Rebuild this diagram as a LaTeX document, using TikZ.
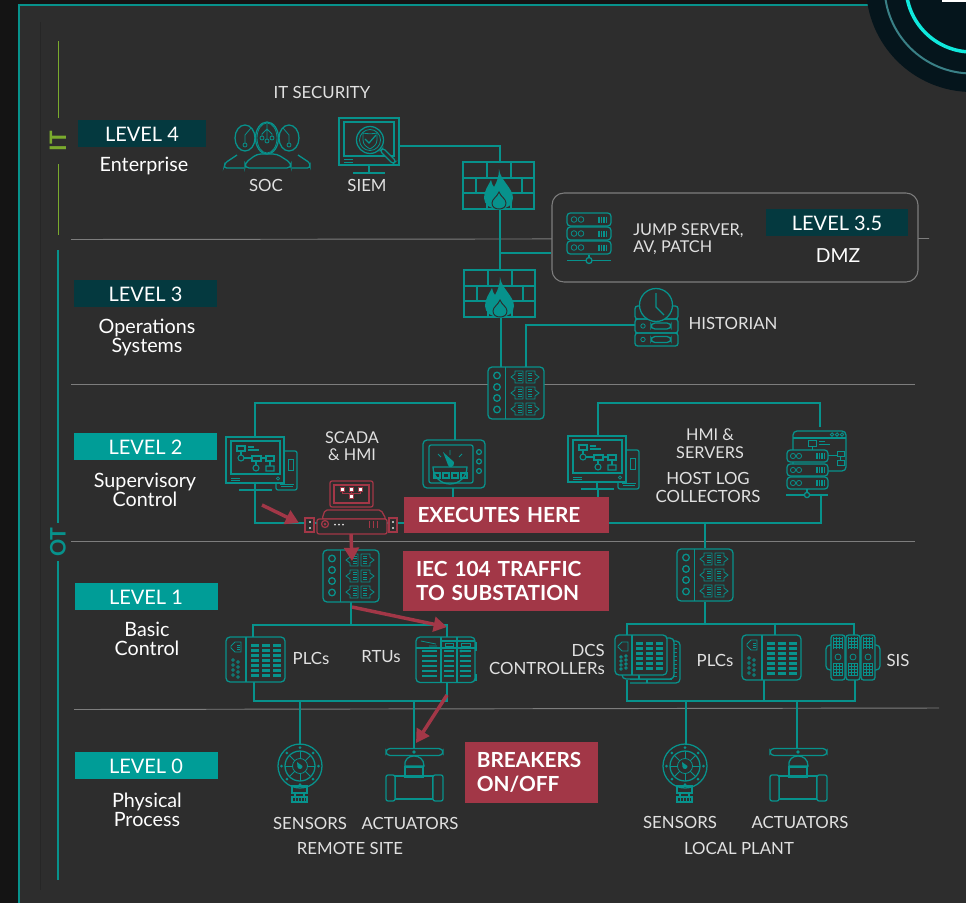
\documentclass[tikz,border=0pt]{standalone}
\usepackage{fontspec}
\setmainfont{Lato}
\usepackage{xcolor}
\usetikzlibrary{arrows.meta}
\definecolor{figbg}{RGB}{45,45,45}
\definecolor{figedge}{RGB}{20,20,20}
\definecolor{figteal}{RGB}{7,146,140}
\definecolor{figdeep}{RGB}{4,57,63}
\definecolor{figlevel}{RGB}{0,157,151}
\definecolor{figred}{RGB}{162,55,71}
\definecolor{figgreen}{RGB}{122,170,45}
\definecolor{figgray}{RGB}{125,125,125}
\definecolor{figtext}{RGB}{225,225,225}
\definecolor{figcore}{RGB}{5,21,28}
\definecolor{figglow}{RGB}{16,232,220}
\definecolor{figring}{RGB}{58,128,134}
\tikzset{
  conn/.style  ={draw=figteal, line width=1.5pt},
  icon/.style  ={draw=figteal, line width=0.95pt},
  thin/.style  ={draw=figteal, line width=0.6pt},
  mid/.style   ={draw=figteal, line width=0.8pt},
  icr/.style   ={draw=figred, line width=0.95pt},
  level/.style ={draw=figgray, line width=0.7pt},
  lab/.style   ={font=\fontsize{12.6}{15}\selectfont, text=figtext, inner sep=0pt, align=center},
  labl/.style  ={lab, align=left},
  sublab/.style={font=\fontsize{14.8}{14.2}\selectfont, text=white, inner sep=0pt, align=center},
  lvlb/.style  ={minimum width=107.25pt, minimum height=20.25pt, inner sep=0pt, text=white,
                 text height=12.6pt, text depth=0pt, font=\fontsize{15}{18}\selectfont},
  lvld/.style  ={lvlb, fill=figdeep},
  lvlt/.style  ={lvlb, fill=figlevel},
  flag/.style  ={fill=figred, text=white, inner sep=0pt, align=left,
                 font=\bfseries\fontsize{15.6}{17.5}\selectfont},
  ptr/.style   ={draw=figred, line width=2.6pt, -{Triangle[length=10pt,width=11pt]}},
  pics/firewall/.style={code={
    \draw[icon] (0,0) rectangle (71,47);
    \draw[icon] (0,16) -- (71,16) (0,31) -- (71,31);
    \draw[icon] (24,0) -- (24,16) (48,0) -- (48,16) (13,16) -- (13,31) (59,16) -- (59,31);
    \draw[icon] (24,31) -- (24,47) (48,31) -- (48,47);
    \fill[figteal] (36,7) .. controls (37,18) and (50,26) .. (50,36) .. controls (50,43) and (44,47) .. (36,47)
      .. controls (28,47) and (21,43) .. (21,36) .. controls (21,29) and (25,24) .. (28,18)
      .. controls (29,22) and (30,24) .. (31,25) .. controls (34,20) and (36,14) .. (36,7) -- cycle;
    \draw[draw=figbg,line width=0.7pt] (36,30) .. controls (38,35) and (43,37) .. (43,41)
      .. controls (43,45) and (40,47) .. (36,47) .. controls (32,47) and (29,45) .. (29,41)
      .. controls (29,37) and (34,35) .. (36,30) -- cycle;
  }},
  pics/switchbox/.style={code={
    \draw[icon,rounded corners=3pt,fill=figbg] (0,0) rectangle (56,52);
    \draw[icon] (17.5,0) -- (17.5,52);
    \foreach \cy in {8.5,20,31,42.5} \draw[icon] (9,\cy) circle (3.3);
    \foreach \py in {10,26,42} {
      \draw[thin] (35,\py-6) -- (27,\py-6) -- (27,\py-3) -- (23,\py) -- (27,\py+3) -- (27,\py+6) -- (35,\py+6) -- cycle;
      \draw[thin] (38,\py-6) -- (47,\py-6) -- (47,\py-3) -- (51,\py) -- (47,\py+3) -- (47,\py+6) -- (38,\py+6) -- cycle;
      \foreach \dy in {-3.5,-1.2,1.2,3.5} {
        \draw[thin] (30,\py+\dy) -- (34,\py+\dy);
        \draw[thin] (40,\py+\dy) -- (44,\py+\dy);
      }
    }
  }},
  pics/flowchart/.style={code={
    \draw[mid] (0,0) rectangle (8,5) (11,1) -- (17,1) (11,4) -- (22,4);
    \draw[mid] (4,5) -- (4,9) (7,12) -- (15,12) (24,12) -- (29,12);
    \draw[mid] (4,12) circle (3);
    \draw[mid] (15,10) rectangle (24,15) (29,10) rectangle (37,15);
    \draw[mid] (19,15) -- (19,19) (33,15) -- (33,20);
    \draw[mid] (19,22) circle (3) (29,20) rectangle (37,25);
  }},
  pics/hmidesk/.style={code={
    \draw[icon,rounded corners=1.5pt] (50,14) rectangle (71,53);
    \draw[thin] (62,22) rectangle (67,33) (54,47) -- (68,47);
    \draw[thin] (55,49) -- (67,49);
    \draw[icon,fill=figbg] (0,0) rectangle (58,46);
    \draw[icon] (5,4) rectangle (54,37);
    \draw[thin] (5,41) -- (14,41) (5,43) -- (14,43);
    \draw[thin] (52,41.5) circle (1.6);
    \draw[icon] (29,46) -- (29,53);
    \draw[icon] (13,53) -- (46,53);
    \pic at (11,9) {flowchart};
  }},
  pics/gauge/.style={code={
    \draw[icon,rounded corners=3pt] (0,0) rectangle (62,48);
    \draw[icon,rounded corners=1.5pt] (6,5) rectangle (50,43);
    \draw[icon] (10,27) arc[start angle=180,end angle=0,radius=17] -- cycle;
    \fill[figteal] (20,12) -- (31,22) .. controls (32,27) and (26,29) .. (25,25) -- cycle;
    \draw[thin] (27,10) -- (27,15) (39,14) -- (36,17) (15,14) -- (18,17);
    \foreach \bx in {11,20,29,38} \draw[mid] (\bx,33) rectangle (\bx+6,38);
    \foreach \cy in {12,21.5,31} \draw[icon] (56,\cy) circle (2.4);
  }},
  pics/plcbox/.style={code={
    \draw[icon,rounded corners=3pt,fill=figbg] (0,0) rectangle (59,45);
    \draw[icon] (20,0) -- (20,45);
    \draw[thin] (5,9) -- (9,5) -- (15,5) -- (15,15) -- (9,15) -- (5,11) -- cycle;
    \draw[thin] (11,8) -- (14,8) (11,10) -- (14,10) (11,12) -- (14,12);
    \foreach \dx/\dy in {7/23,7/28,7/33,7/38,12/25,12/30,12/35,12/40}
      \draw[thin] (\dx,\dy) circle (1.4);
    \foreach \bx in {25,36,47} \foreach \by in {7,12,17,22,27,32,37}
      \fill[figteal] (\bx,\by) rectangle (\bx+8,\by+3);
  }},
  pics/rtubox/.style={code={
    \draw[icon,rounded corners=3pt,fill=figbg] (0,0) rectangle (59,45.5);
    \draw[icon] (25,0) -- (25,45.5) (41,0) -- (41,45.5);
    \draw[icon] (25,4) -- (59,4) (0,11) -- (59,11);
    \draw[thin] (29,6) rectangle (37,9.5) (45,6) rectangle (54,9.5);
    \draw[thin] (5,4) -- (20,7) (13,9) -- (21,9);
    \foreach \by in {14,19,24,29,34,39} {
      \draw[icon] (6,\by) -- (21,\by);
      \draw[icon] (28,\by) -- (38,\by);
      \draw[icon] (44,\by) -- (55,\by);
    }
    \fill[figteal] (45,14) circle (1.7);
    \draw[icon] (59,6) -- (60,6) -- (60,13) -- (59,13) (59,38) -- (60,38) -- (60,44);
  }},
  pics/sisbox/.style={code={
    \draw[icon,rounded corners=3pt] (5,10) -- (0,10) -- (0,35) -- (5,35);
    \draw[icon,rounded corners=3pt] (49,10) -- (54,10) -- (54,35) -- (49,35);
    \foreach \mx in {5,20,35} {
      \draw[icon,rounded corners=2pt,fill=figbg] (\mx,0) rectangle (\mx+14,45);
      \foreach \gy in {3,6,9,12,28,31,34,37,40} \draw[thin] (\mx+2,\gy) -- (\mx+12,\gy);
      \foreach \gx in {3,6,9,12} {
        \draw[thin] (\mx+\gx-.5,2) -- (\mx+\gx-.5,14);
        \draw[thin] (\mx+\gx-.5,28) -- (\mx+\gx-.5,41);
      }
      \draw[thin] (\mx+7,22) circle (3);
    }
  }},
  pics/sensor/.style={code={
    \draw[icon] (0,0) circle (22);
    \draw[icon] (0,0) circle (15);
    \draw[thin] (0,0) circle (7.5);
    \foreach \ang in {0,45,...,315} {
      \draw[thin] (\ang:7.5) -- (\ang:15);
      \fill[figteal] (\ang:18.5) circle (1.5);
    }
    \fill[figteal] (-3,-4) -- (2.5,0) .. controls (3,3.5) and (-2,4) .. (-2.5,1) -- cycle;
    \draw[icon] (-8,20) rectangle (7,27);
    \draw[icon] (-5,27) rectangle (4,31);
    \draw[icon] (-8,31) rectangle (7,36);
    \foreach \hx in {-5,-2,1,4} \draw[thin] (\hx,31) -- (\hx,36);
  }},
  pics/valve/.style={code={
    \draw[icon,rounded corners=3pt] (-28,-3.5) rectangle (29,3.5);
    \fill[figteal] (0,0) circle (1.8);
    \draw[icon] (-9,14) .. controls (-10,7) and (-5,4) .. (0,4) .. controls (5,4) and (10,7) .. (10,14) -- cycle;
    \draw[icon] (-9,15) rectangle (9,25);
    \draw[icon] (-19,24) rectangle (19,47);
    \draw[icon,rounded corners=1.5pt,fill=figbg] (-28,23) rectangle (-19,49);
    \draw[icon,rounded corners=1.5pt,fill=figbg] (19,23) rectangle (29,49);
  }},
  pics/rackrow/.style={code={
    \draw[icon,rounded corners=2.5pt,fill=figbg] (0,0) rectangle (44,13);
    \draw[thin] (7,6.5) circle (2.8) (14,6.5) circle (2.8);
    \foreach \bx in {32,34.5,37,39.5} \draw[icon] (\bx,3.5) -- (\bx,9.5);
  }},
  pics/rack/.style={code={
    \pic at (0,0) {rackrow};
    \pic at (0,14) {rackrow};
    \pic at (0,28) {rackrow};
    \draw[icon] (0,47.5) -- (44,47.5);
    \draw[icon,fill=figbg] (22,47.5) circle (3);
    \draw[icon] (22,42) -- (22,44.5);
  }},
  pics/logserver/.style={code={
    \draw[icon,rounded corners=3pt] (6,0) rectangle (59,40);
    \draw[icon] (6,7) -- (59,7);
    \foreach \cx in {45,50,55} \draw[thin] (\cx,3.5) circle (1.7);
    \draw[thin] (21,9) rectangle (29,15) (25,15) -- (25,19);
    \draw[thin] (32,10) -- (38,10) (32,13) -- (43,13);
    \draw[thin] (41,24) -- (50,24) (50,20) rectangle (57,25);
    \draw[thin] (53,25) -- (53,29) (50,29) rectangle (57,34);
    \draw[icon,rounded corners=2.5pt,fill=figbg] (0,19) rectangle (41,31);
    \draw[icon,rounded corners=2.5pt,fill=figbg] (0,33) rectangle (41,45);
    \draw[icon,rounded corners=2.5pt,fill=figbg] (0,46) rectangle (41,58);
    \foreach \ry in {25,39,52} {
      \draw[thin] (6,\ry) circle (2.6) (12,\ry) circle (2.6);
      \foreach \bx in {30,32.5,35,37.5} \draw[icon] (\bx,\ry-3) -- (\bx,\ry+3);
    }
    \draw[icon] (-1,64) -- (41,64);
    \draw[icon,fill=figbg] (20,64) circle (2.6);
    \draw[icon] (20,58) -- (20,61.4);
  }},
  pics/historian/.style={code={
    \draw[icon,rounded corners=2pt] (0,9) rectangle (43,22);
    \draw[icon,rounded corners=2pt] (0,22) rectangle (43,36);
    \draw[icon,rounded corners=2pt] (0,36) rectangle (43,49);
    \draw[thin] (8,29) circle (2.2) (8,42.5) circle (2.2);
    \draw[icon,rounded corners=3pt] (16,26) rectangle (36,32);
    \draw[icon,rounded corners=3pt] (16,39.5) rectangle (36,45.5);
    \draw[icon,fill=figbg] (21,8) circle (16.5);
    \draw[icon] (21,-4) -- (21,10) -- (29,18);
  }},
  pics/socteam/.style={code={
    \draw[icon,rounded corners=2pt] (17,40) -- (5,48) -- (4,53) -- (24,53);
    \draw[icon,rounded corners=2pt] (78,40) -- (90,48) -- (90,53) -- (72,53);
    \draw[icon,fill=figbg] (25,23) ellipse (10 and 13);
    \draw[icon,fill=figbg] (69,23) ellipse (10 and 13);
    \draw[icon,rounded corners=3pt,fill=figbg] (25,53) -- (71,53) -- (71,48) -- (57,39) -- (37,39) -- (25,48) -- cycle;
    \draw[icon,fill=figbg] (47,23) ellipse (11.5 and 16);
    \draw[thin] (47,23) ellipse (10 and 15);
    \draw[thin] (47,9) -- (47,24) (47,14) -- (42,19) -- (42,21) (47,14) -- (52,19) -- (52,21);
    \draw[thin] (47,26) circle (2) (42,23) circle (2) (52,23) circle (2);
    \draw[thin] (31,13) -- (25,20) -- (25,28) (63,13) -- (69,20) -- (69,28);
    \draw[thin] (25,30) circle (2) (69,30) circle (2);
  }},
  pics/siemscreen/.style={code={
    \draw[icon] (0,0) rectangle (60,47);
    \draw[icon] (5,4) rectangle (55,38);
    \draw[thin] (5,41) -- (14,41) (5,44) -- (14,44);
    \draw[icon] (30,47) -- (30,55);
    \draw[icon] (14,55) -- (46,55);
    \draw[icon,fill=figbg] (31,22) circle (13.5);
    \draw[thin] (31,22) circle (10.5);
    \draw[thin] (24,15) .. controls (28,16) and (34,16) .. (38,15) -- (38,22) .. controls (38,27) and (34,29) .. (31,31) .. controls (28,29) and (24,27) .. (24,22) -- cycle;
    \draw[icon] (26,21) -- (30,25) -- (37,17);
    \draw[icon,rounded corners=2pt,fill=figbg] (41,33) -- (44,30) -- (57,43) -- (54,46) -- cycle;
  }},
  pics/plcdcs/.style={code={
    \draw[icon,rounded corners=3pt,fill=figbg] (0,0) rectangle (52,40);
    \draw[icon] (17,0) -- (17,40);
    \draw[thin] (3,11) -- (7,7) -- (13,7) -- (13,16) -- (7,16) -- (3,12) -- cycle;
    \foreach \dy in {22,26,30,34} { \draw[thin] (6,\dy) circle (1.3); \draw[thin] (11,\dy-1) circle (1.3); }
    \foreach \bx in {21,31,41} \foreach \by in {7,12,17,22,27,32}
      \fill[figteal] (\bx,\by) rectangle (\bx+7,\by+3);
  }},
  pics/dcsstack/.style={code={
    \draw[icon,rounded corners=3pt] (15,6) -- (65,6) -- (65,48) -- (15,48);
    \draw[icon] (15,44) -- (57,44) (32,44) -- (32,48);
    \foreach \by in {9,13,17,21,25,29,33,37,41} \draw[thin] (58,\by) -- (62,\by);
    \draw[icon,rounded corners=3pt,fill=figbg] (7,3) rectangle (59,44);
    \draw[icon] (24,40) -- (24,44);
    \pic at (0,0) {plcdcs};
  }},
}
\begin{document}
\begin{tikzpicture}[x=0.75pt,y=-0.75pt]
  \useasboundingbox (0,0) rectangle (966,903);
  \clip (0,0) rectangle (966,903);
  \fill[figedge] (0,0) rectangle (966,903);
  \fill[figbg] (19,5) rectangle (966,903);
  \draw[draw=figteal,line width=1.5pt] (19,903) -- (19,5) -- (900,5);
  \draw[draw=black!85,line width=0.5pt] (40,22) -- (40,890);
  % corner badge
  \fill[figcore] (972,-14) circle (106);
  \draw[draw=figring,line width=1.5pt] (972,-14) circle (87.5);
  \draw[draw=figglow,line width=2.6pt] (972,-14) circle (66);
  \fill[white] (942,0) rectangle (966,2);
  % side bars
  \coordinate (itA) at (58.5,41);
  \coordinate (itB) at (58.5,118);
  \coordinate (itC) at (58.5,164);
  \coordinate (itD) at (58.5,235);
  \coordinate (otA) at (58,250);
  \coordinate (otB) at (58,523);
  \coordinate (otC) at (58,561);
  \coordinate (otD) at (58,880);
  \draw[draw=figgreen,line width=1.2pt] (itA) -- (itB) (itC) -- (itD);
  \draw[draw=figteal,line width=1.5pt] (otA) -- (otB) (otC) -- (otD);
  \node[text=figgreen,rotate=90,font=\bfseries\fontsize{17}{17}\selectfont,inner sep=0pt] (tagit) at (58,141) {IT};
  \node[text=figteal,rotate=90,font=\bfseries\fontsize{16}{16}\selectfont,inner sep=0pt] (tagot) at (58,542) {OT};
  % level lines
  \draw[level] (71,239.5) -- (929,238.5);
  \draw[level] (71,384) -- (915,384);
  \draw[level] (71,541.5) -- (915,541.5);
  \draw[level] (74,709.5) -- (939,708);
  % level tags
  \node[lvld,minimum width=96pt] (lvl4) at (142,133.5) {LEVEL 4};
  \node[sublab] (sub4) at (144,166) {Enterprise};
  \node[lvld] (lvl3) at (145.5,293) {LEVEL 3};
  \node[sublab] (sub3) at (147,337) {Operations\\Systems};
  \node[lvlt] (lvl2) at (145.5,446.5) {LEVEL 2};
  \node[sublab] (sub2) at (145,489.5) {Supervisory\\Control};
  \node[lvlt] (lvl1) at (146,596.5) {LEVEL 1};
  \node[sublab] (sub1) at (147,639) {Basic\\Control};
  \node[lvlt] (lvl0) at (146,765.5) {LEVEL 0};
  \node[sublab] (sub0) at (147,810) {Physical\\Process};
  % dmz box
  \node[draw=figgray,line width=0.8pt,fill=figbg,rounded corners=9pt,inner sep=0pt,
        minimum width=274.5pt,minimum height=66.75pt] (dmz) at (735,237.5) {};
  \node[lvld,minimum width=107pt] (lvl35) at (837,222.5) {LEVEL 3.5};
  \node[sublab,font=\fontsize{14.5}{16}\selectfont] (dmzlab) at (838,256) {DMZ};
  \pic at (567,213) {rack};
  % anchor points of the links
  \coordinate (siemR) at (399,146);
  \coordinate (wallAt) at (499.5,162);
  \coordinate (wallAb) at (499.5,209);
  \coordinate (wallBt) at (499.5,270);
  \coordinate (wallBb) at (500.5,317);
  \coordinate (dmzL) at (dmz.west |- 0,253);
  \coordinate (tapD) at (499.5,253);
  \coordinate (corT) at (500.5,367);
  \coordinate (corU) at (526,367);
  \coordinate (histL) at (635,325);
  \coordinate (topA) at (255,403);
  \coordinate (topB) at (455,403);
  \coordinate (topC) at (598,403);
  \coordinate (topD) at (820,403);
  \coordinate (hmiAt) at (255,437);
  \coordinate (hmiAb) at (255,490);
  \coordinate (dialT) at (455,440);
  \coordinate (dialB) at (453,488);
  \coordinate (busL) at (255,523);
  \coordinate (busR) at (821,523);
  \coordinate (hmiBt) at (598,436);
  \coordinate (hmiBb) at (598,490);
  \coordinate (logT) at (820,427);
  \coordinate (logB) at (821,495);
  \coordinate (swAt) at (351,550);
  \coordinate (swAb) at (351,602);
  \coordinate (devB) at (351,534);
  \coordinate (swBt) at (705,548);
  \coordinate (swBb) at (705,602);
  \coordinate (tapB) at (705,523);
  \coordinate (tapA) at (351,625);
  \coordinate (tapC) at (705,624);
  \coordinate (plcAt) at (253,637);
  \coordinate (plcAb) at (254,682);
  \coordinate (rtuT) at (447,637);
  \coordinate (rtuB) at (447,683);
  \coordinate (lowA) at (447,701);
  \coordinate (senAt) at (300,745);
  \coordinate (senAu) at (300,701);
  \coordinate (valAt) at (414,749);
  \coordinate (valAu) at (414,701);
  \coordinate (dcsT) at (627,635);
  \coordinate (dcsB) at (627,680);
  \coordinate (plcBt) at (775,635);
  \coordinate (plcBb) at (764,680);
  \coordinate (sisT) at (854,635);
  \coordinate (sisB) at (855,680);
  \coordinate (senBt) at (686,745);
  \coordinate (senBu) at (686,701);
  \coordinate (valBt) at (797,749);
  \coordinate (valBu) at (797,701);
  % links
  \draw[conn] (siemR) -| (wallAt);
  \draw[conn] (wallAb) -- (wallBt);
  \draw[conn] (tapD) -- (dmzL);
  \draw[conn] (wallBb) -- (corT);
  \draw[conn] (corU) |- (histL);
  \draw[conn] (hmiAt) -- (topA) -- (topB) -- (dialT);
  \draw[conn] (hmiAb) -- (busL) -- (busR) -- (logB);
  \draw[conn] (dialB) -- (dialB |- busL);
  \draw[conn] (hmiBt) -- (topC) -- (topD) -- (logT);
  \draw[conn] (hmiBb) -- (hmiBb |- busL);
  \draw[conn] (devB) -- (swAt);
  \draw[conn] (swAb) -- (tapA);
  \draw[conn] (plcAt) |- (tapA) -| (rtuT);
  \draw[conn] (plcAb) |- (lowA) -- (rtuB);
  \draw[conn] (senAu) -- (senAt);
  \draw[conn] (valAu) -- (valAt);
  \draw[conn] (tapB) -- (swBt);
  \draw[conn] (swBb) -- (tapC);
  \draw[conn] (dcsT) |- (tapC) -| (sisT);
  \draw[conn] (plcBt) -- (plcBt |- tapC);
  \draw[conn] (dcsB) |- (sisB |- lowA) -- (sisB);
  \draw[conn] (plcBb) -- (plcBb |- lowA);
  \draw[conn] (senBu) -- (senBt);
  \draw[conn] (valBu) -- (valBt);
  % icons
  \pic at (220,115) {socteam};
  \pic at (339,118) {siemscreen};
  \pic at (463,162) {firewall};
  \pic at (464,270) {firewall};
  \pic at (635,297) {historian};
  \pic at (488,367) {switchbox};
  \pic at (226,437) {hmidesk};
  \pic at (423,440) {gauge};
  \pic at (568,436) {hmidesk};
  \pic at (787,431) {logserver};
  \pic at (323,550) {switchbox};
  \pic at (677,549) {switchbox};
  \pic at (226,637) {plcbox};
  \pic at (416,637) {rtubox};
  \pic at (615,635) {dcsstack};
  \pic at (742,635) {plcbox};
  \pic at (826,635) {sisbox};
  \pic at (300,766) {sensor};
  \pic at (685,766) {sensor};
  \pic at (414,752) {valve};
  \pic at (798,752) {valve};
  % compromised host
  \draw[icr,rounded corners=1.5pt,fill=figbg] (330,481) rectangle (373,507);
  \draw[icr] (334,485) rectangle (369,503);
  \foreach \sx/\sy in {342/489,351/489,360/489,351/496}
    \fill[white,draw=figred,line width=0.6pt] (\sx-2,\sy-2) rectangle (\sx+2,\sy+2);
  \draw[icr,line width=0.6pt] (342,491) -- (342,493) -- (360,493) -- (360,491) (351,491) -- (351,494);
  \draw[icr,rounded corners=1.5pt,fill=figbg] (322,519) -- (325,510) -- (381,510) -- (386,519) -- cycle;
  \draw[icr,rounded corners=1.5pt,fill=figbg] (317,519) rectangle (387,534);
  \draw[icr,fill=figbg] (305,518) rectangle (314,532);
  \draw[icr,fill=figbg] (389,518) rectangle (397,532);
  \foreach \ey in {522,528} {
    \fill[figtext] (310,\ey) circle (1.2);
    \fill[figtext] (393,\ey) circle (1.2);
  }
  \draw[icr] (325,524) circle (3.5);
  \fill[figred] (325,524) circle (1.5);
  \foreach \dx in {335,339,343} \fill[figtext] (\dx,524.5) circle (1);
  \foreach \dx in {369,373,377} \draw[icr,line width=0.6pt] (\dx,521) -- (\dx,528);
  % texts
  \node[lab] (itsec) at (322,92) {IT SECURITY};
  \node[lab] (soclab) at (266,185) {SOC};
  \node[lab] (siemlab) at (367,185) {SIEM};
  \node[labl,font=\fontsize{12.2}{12.8}\selectfont,anchor=west] (jumplab) at (633,239) {JUMP SERVER,\\AV, PATCH};
  \node[lab] (histlab) at (733,323) {HISTORIAN};
  \node[lab,font=\fontsize{12.2}{13}\selectfont] (scadalab) at (352,446) {SCADA\\\& HMI};
  \node[lab,font=\fontsize{12.2}{13}\selectfont] (hmilab) at (710,443.5) {HMI \&\\SERVERS};
  \node[lab,font=\fontsize{12.6}{13}\selectfont] (loglab) at (708,487.5) {HOST LOG\\COLLECTORS};
  \node[lab] (plclabA) at (311,658) {PLCs};
  \node[lab] (rtulab) at (381,657) {RTUs};
  \node[lab,align=right,anchor=east,font=\fontsize{12.6}{13}\selectfont] (dcslab) at (605,659.5) {DCS\\CONTROLLERs};
  \node[lab] (plclabB) at (715,660) {PLCs};
  \node[lab] (sislab) at (898,660) {SIS};
  \node[lab] (senlabA) at (310,823.5) {SENSORS};
  \node[lab] (actlabA) at (410,823.5) {ACTUATORS};
  \node[lab] (remote) at (350,848.5) {REMOTE SITE};
  \node[lab] (senlabB) at (680,822.5) {SENSORS};
  \node[lab] (actlabB) at (800,822.5) {ACTUATORS};
  \node[lab] (localp) at (739,848.5) {LOCAL PLANT};
  % attack notes
  \node[flag,minimum width=153.75pt,minimum height=27pt,text width=133.5pt] (noteA) at (506.5,515) {EXECUTES HERE};
  \node[flag,minimum width=154.5pt,minimum height=45pt,text width=135pt] (noteB) at (506,581) {IEC 104 TRAFFIC\\TO SUBSTATION};
  \node[flag,minimum width=99.75pt,minimum height=46pt,text width=82pt] (noteC) at (531.5,772.5) {BREAKERS\\ON/OFF};
  \coordinate (hitAs) at (262,505);
  \coordinate (hitAe) at (299,523);
  \coordinate (hitBe) at (352,561);
  \coordinate (hitCs) at (352,607);
  \coordinate (hitCe) at (447,627);
  \coordinate (hitDs) at (447,695);
  \coordinate (hitDe) at (416,743);
  \draw[ptr] (hitAs) -- (hitAe);
  \draw[ptr] (devB) -- (hitBe);
  \draw[ptr] (hitCs) -- (hitCe);
  \draw[ptr] (hitDs) -- (hitDe);
\end{tikzpicture}
\end{document}
